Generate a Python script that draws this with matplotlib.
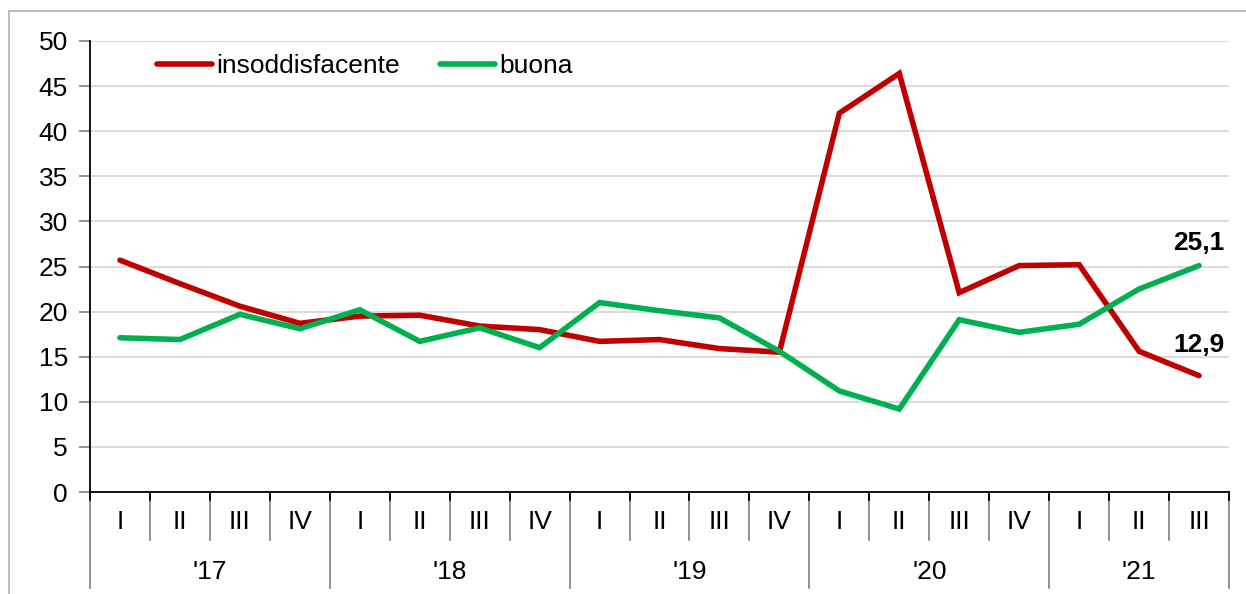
import matplotlib.pyplot as plt
from matplotlib.lines import Line2D

plt.rcParams['font.family'] = ['Liberation Sans', 'DejaVu Sans']

# data
quarters = ["I", "II", "III", "IV"] * 4 + ["I", "II", "III"]
years = ["'17", "'18", "'19", "'20", "'21"]
year_len = [4, 4, 4, 4, 3]
insoddisfacente = [25.7, 23.1, 20.6, 18.7, 19.5, 19.6, 18.4, 18.0, 16.7, 16.9,
                   15.9, 15.5, 42.0, 46.4, 22.1, 25.1, 25.2, 15.6, 12.9]
buona = [17.1, 16.9, 19.7, 18.1, 20.2, 16.7, 18.2, 16.0, 21.0, 20.1,
         19.3, 15.6, 11.2, 9.2, 19.1, 17.7, 18.6, 22.5, 25.1]

red = "#c00000"
green = "#00b050"
fs = 19

W, H = 1246, 594
fig = plt.figure(figsize=(W / 100, H / 100), dpi=100)
ax = fig.add_axes([90 / W, (H - 492) / H, 1139 / W, 451 / H])

# figure frame (top and left visible)
fig.add_artist(Line2D([9 / W, 1], [1 - 11 / H, 1 - 11 / H], color="#b0b0b0", lw=1.2))
fig.add_artist(Line2D([9 / W, 9 / W], [0, 1 - 11 / H], color="#b0b0b0", lw=1.2))

x = list(range(len(quarters)))
ax.plot(x, insoddisfacente, color=red, lw=4, label="insoddisfacente",
        solid_joinstyle="miter", solid_capstyle="round", zorder=3)
ax.plot(x, buona, color=green, lw=4, label="buona",
        solid_joinstyle="miter", solid_capstyle="round", zorder=3)

ax.set_xlim(-0.5, len(quarters) - 0.5)
ax.set_ylim(0, 50)
ax.set_yticks(range(0, 51, 5))
ax.tick_params(axis="y", labelsize=fs, length=8, width=1.2, color="#808080", pad=8)
ax.grid(axis="y", color="#d9d9d9", lw=1.3)
ax.set_axisbelow(True)
for s in ["top", "right"]:
    ax.spines[s].set_visible(False)
ax.spines["left"].set_linewidth(1.3)
ax.spines["bottom"].set_linewidth(1.3)

# two-level category axis
ax.set_xticks([])
tr = ax.get_xaxis_transform()
q_bottom = -48 / 451
y_bottom = -96 / 451
for i, q in enumerate(quarters):
    ax.text(i, -30 / 451, q, transform=tr, ha="center", va="center", fontsize=fs)
start = 0
bounds = {0, len(quarters)}
for yr, n in zip(years, year_len):
    ax.text(start + (n - 1) / 2, -80 / 451, yr, transform=tr, ha="center",
            va="center", fontsize=fs)
    start += n
    bounds.add(start)
for b in range(len(quarters) + 1):
    low = y_bottom if b in bounds else q_bottom
    ax.plot([b - 0.5, b - 0.5], [0, low], transform=tr, color="#808080",
            lw=1.2, clip_on=False)
    ax.plot([b - 0.5, b - 0.5], [0, -8 / 451], transform=tr, color="black",
            lw=1.3, clip_on=False)

# end labels
ax.annotate("25,1", (x[-1], buona[-1]), xytext=(0, 16), textcoords="offset points",
            ha="center", va="center", fontsize=fs, fontweight="bold")
ax.annotate("12,9", (x[-1], insoddisfacente[-1]), xytext=(0, 22), textcoords="offset points",
            ha="center", va="center", fontsize=fs, fontweight="bold")

ax.legend(loc="center left", bbox_to_anchor=((157 - 90) / 1139, (492 - 66) / 451),
          ncol=2, frameon=False, fontsize=fs, handlelength=2.1, handletextpad=0.15,
          columnspacing=1.5, borderpad=0, borderaxespad=0)

fig.savefig("out.png", dpi=100)
